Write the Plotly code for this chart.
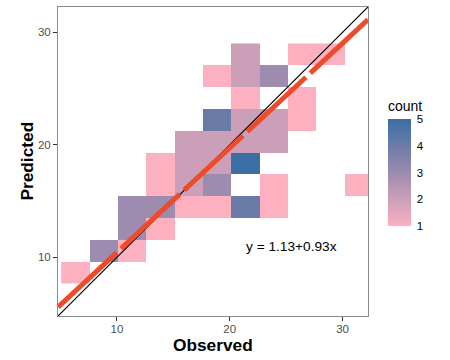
import plotly.graph_objects as go

# ---- data ----
x_centers = [6.32, 8.83, 11.34, 13.85, 16.36, 18.87, 21.38, 23.89, 26.40, 28.91, 31.42]
y_centers = [8.68, 10.62, 12.55, 14.49, 16.42, 18.36, 20.30, 22.23, 24.17, 26.10, 28.04]
# counts[row][col]; None = empty bin
counts = [
    [1, None, None, None, None, None, None, None, None, None, None],
    [None, 3, 1, None, None, None, None, None, None, None, None],
    [None, None, 3, 1, None, None, None, None, None, None, None],
    [None, None, 3, 3, 1, 1, 4, 1, None, None, None],
    [None, None, None, 1, 2, 3, None, 1, None, None, 1],
    [None, None, None, 1, 2, 2, 5, None, None, None, None],
    [None, None, None, None, 2, 2, 2, 2, None, None, None],
    [None, None, None, None, None, 4, 2, 2, 1, None, None],
    [None, None, None, None, None, None, 1, None, 1, None, None],
    [None, None, None, None, None, 1, 2, 3, None, None, None],
    [None, None, None, None, None, None, 2, None, 1, 1, None],
]
intercept = 1.13
slope = 0.93
axis_range = [4.78, 32.25]
tick_vals = [10, 20, 30]
count_ticks = [1, 2, 3, 4, 5]

colorscale = [
    [0.00, "#FCB0C0"],
    [0.25, "#CB9FB8"],
    [0.50, "#9D8BB0"],
    [0.75, "#6B7BA8"],
    [1.00, "#3A6EA5"],
]

FONT = "Liberation Sans, Arial, Helvetica, sans-serif"

fig = go.Figure()
fig.add_trace(go.Heatmap(
    x=x_centers, y=y_centers, z=counts, zmin=1, zmax=5,
    colorscale=colorscale, xgap=0, ygap=0, hoverongaps=False,
    colorbar=dict(
        title=dict(text="count", side="top", font=dict(size=14, color="black", family=FONT)),
        tickvals=count_ticks, ticks="outside", ticklen=4, tickcolor="white", tickwidth=1,
        tickfont=dict(size=11.5, color="black", family=FONT),
        thickness=23, lenmode="pixels", len=128,
        x=1.0645, xanchor="left", y=0.2913, yanchor="bottom",
        xpad=0, ypad=0, outlinewidth=0,
    ),
))

# identity line
fig.add_trace(go.Scatter(
    x=axis_range, y=axis_range, mode="lines",
    line=dict(color="black", width=1.2), showlegend=False, hoverinfo="skip"))

# regression line
fit_y = [intercept + slope * v for v in axis_range]
fig.add_trace(go.Scatter(
    x=axis_range, y=fit_y, mode="lines",
    line=dict(color="#EE4B2B", width=5, dash="80px,6px"), showlegend=False, hoverinfo="skip"))

fig.add_annotation(
    x=25.5, y=11.0, xref="x", yref="y", text="y = 1.13+0.93x", showarrow=False,
    font=dict(size=13.7, color="black", family=FONT))

fig.add_annotation(
    x=0.5, y=-0.095, xref="paper", yref="paper", text="<b>Observed</b>", showarrow=False,
    yanchor="middle", font=dict(size=17.3, color="black", family=FONT))
fig.add_annotation(
    x=-0.103, y=0.5, xref="paper", yref="paper", text="<b>Predicted</b>", showarrow=False,
    textangle=-90, xanchor="center", yanchor="middle",
    font=dict(size=17.3, color="black", family=FONT))

axis_common = dict(
    range=axis_range, tickvals=tick_vals, showgrid=False, zeroline=False,
    ticks="outside", ticklen=4, tickwidth=1, tickcolor="#333333",
    showline=True, mirror=True, linecolor="#8c8c8c", linewidth=1,
    tickfont=dict(size=11.5, color="#4D4D4D", family=FONT),
)
fig.update_layout(
    width=450, height=360,
    margin=dict(l=58, r=82, t=7, b=44),
    paper_bgcolor="white", plot_bgcolor="white",
    xaxis=dict(**axis_common, ticklabelstandoff=-2),
    yaxis=dict(**axis_common),
    showlegend=False,
    font=dict(family=FONT),
)

fig.write_html(
    "out.html",
    config={"displayModeBar": False},
    post_script="document.body.style.margin='0';document.body.style.overflow='hidden';",
)
